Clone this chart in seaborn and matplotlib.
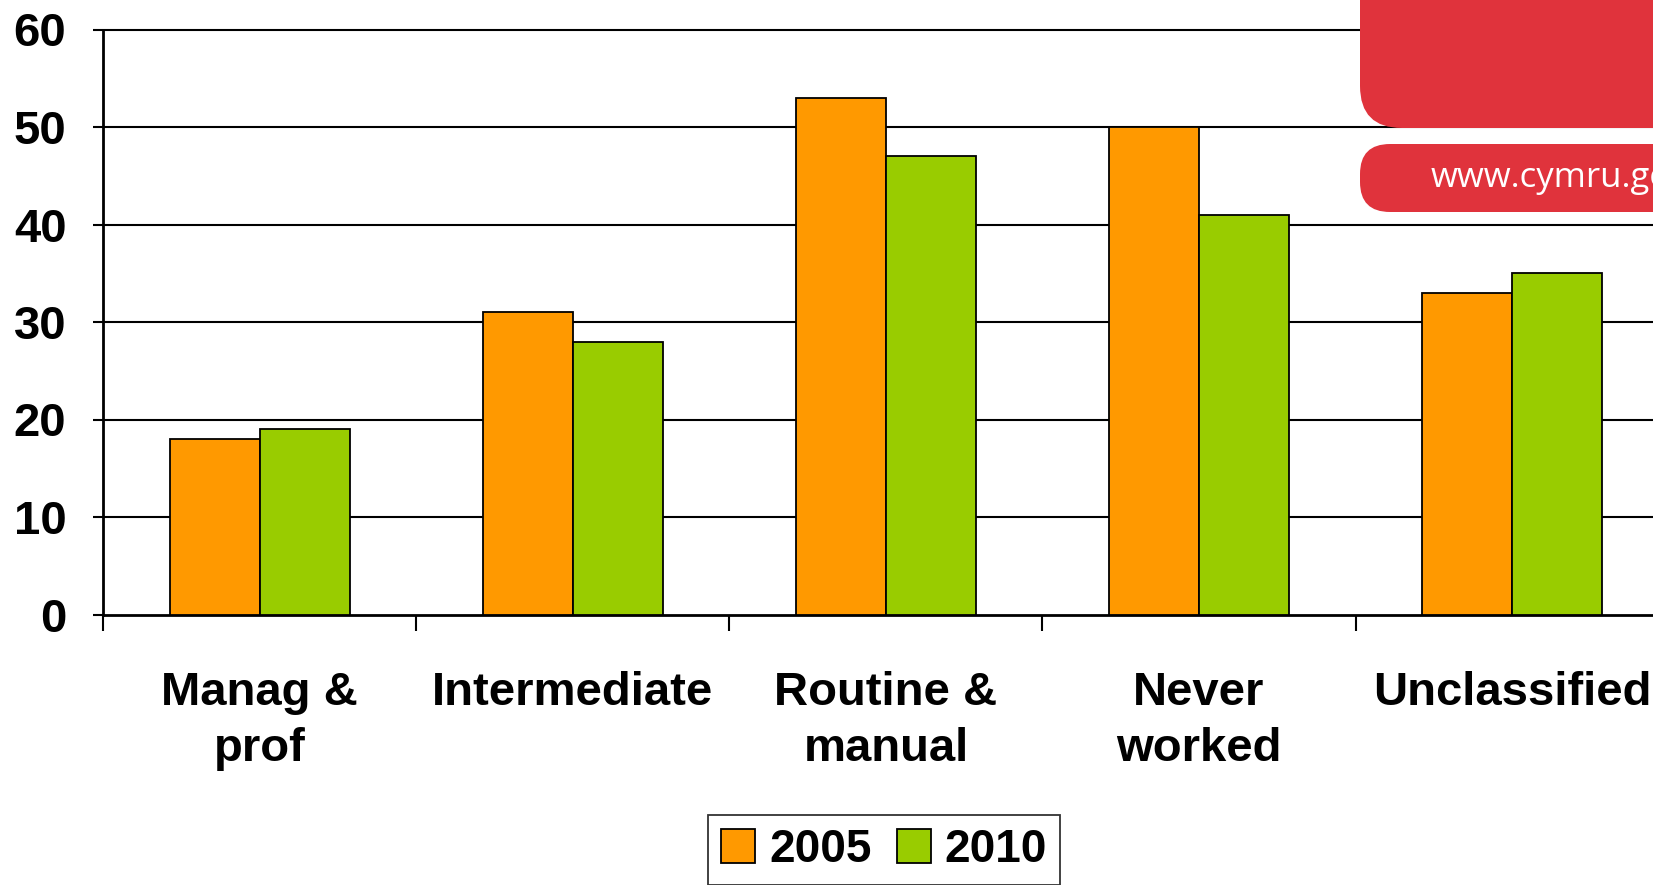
import matplotlib
matplotlib.use("Agg")
import matplotlib.pyplot as plt
import seaborn as sns
import pandas as pd
from matplotlib.patches import FancyBboxPatch

categories = ["Manag &\nprof", "Intermediate", "Routine &\nmanual", "Never\nworked", "Unclassified"]
years = ["2005", "2010"]
values_2005 = [18, 31, 53, 50, 33]
values_2010 = [19, 28, 47, 41, 35]
y_ticks = [0, 10, 20, 30, 40, 50, 60]
colors = ["#FF9900", "#99CC00"]

df = pd.DataFrame({
    "category": categories * 2,
    "year": [years[0]] * len(categories) + [years[1]] * len(categories),
    "value": values_2005 + values_2010,
})

sns.set_theme(style="white")
plt.rcParams["font.family"] = ["Liberation Sans", "DejaVu Sans"]
plt.rcParams["font.weight"] = "bold"
plt.rcParams["text.color"] = "black"
plt.rcParams["xtick.color"] = "black"
plt.rcParams["ytick.color"] = "black"
plt.rcParams["axes.labelcolor"] = "black"

W, H = 1653, 885
fig = plt.figure(figsize=(W / 100, H / 100), dpi=100)
left_px, right_px = 103.3, 1668.6
bottom_px, top_px = 614.5, 29.5
ax = fig.add_axes([left_px / W, 1 - bottom_px / H, (right_px - left_px) / W, (bottom_px - top_px) / H])

sns.barplot(data=df, x="category", y="value", hue="year", order=categories,
            hue_order=years, palette=colors, edgecolor="black", linewidth=1.3,
            width=0.575, saturation=1, ax=ax, zorder=3)

ax.set_xlim(-0.5, len(categories) - 0.5)
ax.set_ylim(0, 60)
ax.set_yticks(y_ticks)
ax.set_yticklabels([str(t) for t in y_ticks], fontsize=34, fontweight="bold", color="black")
ax.set_xlabel("")
ax.set_ylabel("")

# grid lines
for t in y_ticks[1:]:
    ax.axhline(t, color="black", linewidth=1.5, zorder=1, clip_on=False)

for s in ["top", "right"]:
    ax.spines[s].set_visible(False)
for s in ["left", "bottom"]:
    ax.spines[s].set_color("black")
    ax.spines[s].set_linewidth(2)

# x ticks: labels at centers, marks at boundaries
ax.set_xticks(range(len(categories)))
ax.set_xticklabels(categories, fontsize=34, fontweight="bold", linespacing=1.35, color="black")
ax.tick_params(axis="x", which="major", length=0, pad=41)
ax.set_xticks([i - 0.5 for i in range(len(categories) + 1)], minor=True)
ax.tick_params(axis="x", which="minor", length=11.5, width=1.5, color="black", direction="out", bottom=True)
ax.tick_params(axis="y", which="major", length=7.5, width=1.5, color="black", direction="out", left=True, pad=19)

# legend
handles, labels = ax.get_legend_handles_labels()
if ax.legend_:
    ax.legend_.remove()
leg = fig.legend(handles, labels, loc="upper center", bbox_to_anchor=(884 / W, 1 - 815 / H),
                 ncol=2, frameon=True, fancybox=False, edgecolor="black",
                 prop={"size": 33, "weight": "bold"}, handlelength=0.75, handleheight=0.75,
                 handletextpad=0.3, columnspacing=0.55, borderpad=0.28, borderaxespad=0)
leg.get_frame().set_linewidth(1.3)
for t in leg.get_texts():
    t.set_color("black")

# decorative red boxes (top right)
red = "#E0333C"
tr = fig.dpi_scale_trans
box1 = FancyBboxPatch((13.60, 7.57), 5.0, 3.0, boxstyle="round,pad=0,rounding_size=0.42",
                      transform=tr, facecolor=red, edgecolor="none", zorder=5)
box2 = FancyBboxPatch((13.60, 6.73), 5.0, 0.68, boxstyle="round,pad=0,rounding_size=0.3",
                      transform=tr, facecolor=red, edgecolor="none", zorder=5)
fig.add_artist(box1)
fig.add_artist(box2)
fig.text(1431 / W, 1 - 178 / H, "www.cymru.gov.uk", color="white", fontsize=25,
         fontweight="normal", family=["Open Sans", "DejaVu Sans"], va="center", ha="left", zorder=6)

fig.savefig("out.png", dpi=100)
